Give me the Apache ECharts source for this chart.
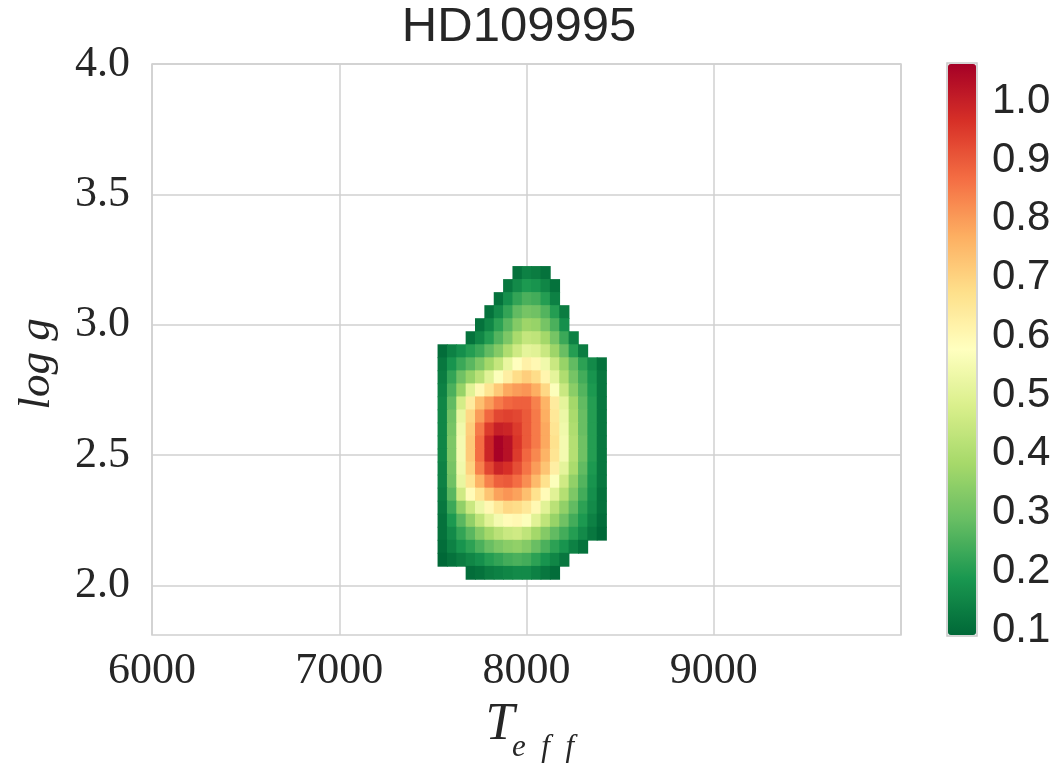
<!DOCTYPE html>
<html><head><meta charset="utf-8">
<script src="https://cdn.jsdelivr.net/npm/echarts@6/dist/echarts.min.js"></script>
<style>html,body{margin:0;padding:0;background:#fff}#c{width:1058px;height:763px}</style>
</head><body><div id="c"></div>
<script>
const titleText = 'HD109995';
const tempValues = [7550,7600,7650,7700,7750,7800,7850,7900,7950,8000,8050,8100,8150,8200,8250,8300,8350,8400];
const loggValues = [3.20,3.15,3.10,3.05,3.00,2.95,2.90,2.85,2.80,2.75,2.70,2.65,2.60,2.55,2.50,2.45,2.40,2.35,2.30,2.25,2.20,2.15,2.10,2.05];
const density = [
  [null,null,null,null,null,null,null,null,0.11,0.14,0.13,0.11,null,null,null,null,null,null],
  [null,null,null,null,null,null,null,0.12,0.16,0.19,0.18,0.15,0.11,null,null,null,null,null],
  [null,null,null,null,null,null,0.11,0.17,0.22,0.25,0.24,0.20,0.14,null,null,null,null,null],
  [null,null,null,null,null,0.11,0.16,0.22,0.28,0.31,0.30,0.26,0.20,0.13,null,null,null,null],
  [null,null,null,null,0.11,0.15,0.21,0.27,0.33,0.37,0.36,0.31,0.25,0.17,null,null,null,null],
  [null,null,null,0.11,0.15,0.20,0.26,0.32,0.39,0.44,0.43,0.38,0.31,0.23,0.14,null,null,null],
  [0.10,0.14,0.17,0.20,0.23,0.28,0.33,0.40,0.46,0.51,0.50,0.45,0.37,0.29,0.20,0.13,null,null],
  [0.12,0.18,0.23,0.27,0.32,0.38,0.44,0.52,0.58,0.62,0.60,0.54,0.45,0.36,0.28,0.21,0.16,0.11],
  [0.13,0.22,0.30,0.36,0.42,0.50,0.57,0.63,0.68,0.71,0.68,0.61,0.51,0.40,0.31,0.24,0.18,0.12],
  [0.14,0.25,0.36,0.50,0.60,0.66,0.72,0.78,0.80,0.81,0.77,0.69,0.57,0.45,0.34,0.26,0.19,0.12],
  [0.15,0.28,0.47,0.64,0.74,0.80,0.85,0.88,0.89,0.89,0.84,0.76,0.64,0.51,0.38,0.28,0.20,0.12],
  [0.15,0.30,0.52,0.69,0.80,0.88,0.93,0.94,0.93,0.90,0.85,0.77,0.65,0.53,0.39,0.29,0.20,0.12],
  [0.15,0.31,0.54,0.71,0.85,0.95,1.00,0.99,0.95,0.90,0.85,0.78,0.66,0.54,0.40,0.29,0.20,0.12],
  [0.15,0.32,0.55,0.72,0.87,0.99,1.06,1.03,0.96,0.90,0.85,0.78,0.67,0.55,0.41,0.30,0.20,0.12],
  [0.15,0.32,0.55,0.72,0.87,0.99,1.06,1.03,0.95,0.88,0.83,0.76,0.66,0.55,0.41,0.30,0.20,0.12],
  [0.14,0.31,0.54,0.70,0.84,0.93,0.99,0.97,0.92,0.86,0.80,0.73,0.63,0.51,0.39,0.28,0.19,0.12],
  [0.14,0.30,0.52,0.66,0.76,0.84,0.89,0.90,0.87,0.82,0.75,0.67,0.57,0.46,0.35,0.26,0.18,0.12],
  [0.13,0.27,0.46,0.59,0.66,0.73,0.79,0.81,0.79,0.74,0.67,0.59,0.50,0.41,0.32,0.24,0.17,0.11],
  [0.12,0.23,0.35,0.45,0.53,0.60,0.65,0.69,0.68,0.65,0.60,0.50,0.42,0.35,0.28,0.21,0.16,0.11],
  [0.11,0.19,0.27,0.35,0.43,0.50,0.55,0.59,0.60,0.57,0.50,0.43,0.36,0.30,0.24,0.19,0.14,0.10],
  [0.11,0.16,0.22,0.27,0.33,0.38,0.42,0.45,0.46,0.43,0.38,0.33,0.28,0.24,0.20,0.16,0.12,0.09],
  [0.10,0.14,0.18,0.21,0.25,0.29,0.32,0.34,0.35,0.33,0.29,0.25,0.21,0.18,0.14,0.11,null,null],
  [0.09,0.11,0.13,0.15,0.17,0.20,0.22,0.24,0.25,0.24,0.21,0.18,0.15,0.12,null,null,null,null],
  [null,null,null,0.10,0.11,0.13,0.14,0.15,0.16,0.16,0.14,0.12,0.10,null,null,null,null,null]
];
const xTicks = [6000,7000,8000,9000,10000];
const yTicks = [2.0,2.5,3.0,3.5,4.0];
const cbarTicks = [0.1,0.2,0.3,0.4,0.5,0.6,0.7,0.8,0.9,1.0];
const cbarRange = [0.09,1.065];
const palette = ['#006837','#1a9850','#66bd63','#a6d96a','#d9ef8b','#ffffbf','#fee08b','#fdae61','#f46d43','#d73027','#a50026'];

const cells = [];
loggValues.forEach((g,i)=>tempValues.forEach((t,j)=>{
  const v = density[i][j];
  if (v !== null) cells.push([t,g,v]);
}));
const dT = tempValues[1]-tempValues[0];
const dG = Math.abs(loggValues[0]-loggValues[1]);

const gridColor = '#d0d0d0';
const txt = '#262626';
const chart = echarts.init(document.getElementById('c'), null, {renderer:'canvas'});
chart.setOption({
  backgroundColor:'#fff',
  animation:false,
  title:{text:titleText, left:519, top:3, textAlign:'center', padding:0,
    textStyle:{fontFamily:'Liberation Sans', fontSize:49, fontWeight:'normal', color:txt}},
  grid:[
    {left:152, right:157, top:64, bottom:128, show:true, borderColor:gridColor, borderWidth:1.5, backgroundColor:'transparent'},
    {left:947, width:30, top:63, height:573, show:true, borderColor:'#c8c8c8', borderWidth:1.5}
  ],
  xAxis:[
    {gridIndex:0, type:'value', min:xTicks[0], max:xTicks[xTicks.length-1], interval:1000,
      axisLine:{show:false}, axisTick:{show:false},
      splitLine:{show:true, lineStyle:{color:gridColor, width:1.5}},
      axisLabel:{showMaxLabel:false, formatter:v=>String(v), fontFamily:'Liberation Serif', fontSize:44, color:txt, margin:14}},
    {gridIndex:1, type:'value', show:false, min:0, max:1}
  ],
  yAxis:[
    {gridIndex:0, type:'value', min:1.81, max:4.0,
      axisLine:{show:false}, axisTick:{show:false, customValues:yTicks},
      splitLine:{show:true, lineStyle:{color:gridColor, width:1.5}},
      axisLabel:{customValues:yTicks, formatter:v=>v.toFixed(1), fontFamily:'Liberation Serif', fontSize:44, color:txt, margin:22}},
    {gridIndex:1, type:'value', position:'right', min:cbarRange[0], max:cbarRange[1],
      axisLine:{show:false}, axisTick:{show:false, customValues:cbarTicks}, splitLine:{show:false},
      axisLabel:{customValues:cbarTicks, formatter:v=>v.toFixed(1), fontFamily:'Liberation Sans', fontSize:42, color:txt, margin:15}}
  ],
  visualMap:{type:'continuous', min:cbarRange[0], max:cbarRange[1], dimension:2, seriesIndex:0,
    calculable:false, left:948, top:64, itemWidth:28, itemHeight:571, padding:0, text:null,
    inRange:{color:palette}},
  graphic:[
    {type:'text', x:37, y:364, rotation:Math.PI/2,
      style:{text:'log g', font:'italic 45px "Liberation Serif"', align:'center', verticalAlign:'middle', textAlign:'center', textVerticalAlign:'middle', fill:txt}},
    {type:'text', x:500, y:725,
      style:{text:'T', font:'italic 52px "Liberation Serif"', align:'center', verticalAlign:'middle', textAlign:'center', textVerticalAlign:'middle', fill:txt}},
    {type:'text', x:543, y:748,
      style:{text:'e\u2002f\u2002f', font:'italic 31px "Liberation Serif"', align:'center', verticalAlign:'middle', textAlign:'center', textVerticalAlign:'middle', fill:txt}}
  ],
  series:[{
    type:'custom', xAxisIndex:0, yAxisIndex:0, data:cells,
    encode:{x:0, y:1},
    renderItem:(params, api)=>{
      const t = api.value(0), g = api.value(1);
      const p0 = api.coord([t - dT/2, g + dG/2]);
      const p1 = api.coord([t + dT/2, g - dG/2]);
      return {type:'rect', shape:{x:p0[0], y:p0[1], width:p1[0]-p0[0]+0.8, height:p1[1]-p0[1]+0.8},
        style:{fill:api.visual('color')}};
    }
  }]
});
</script></body></html>
